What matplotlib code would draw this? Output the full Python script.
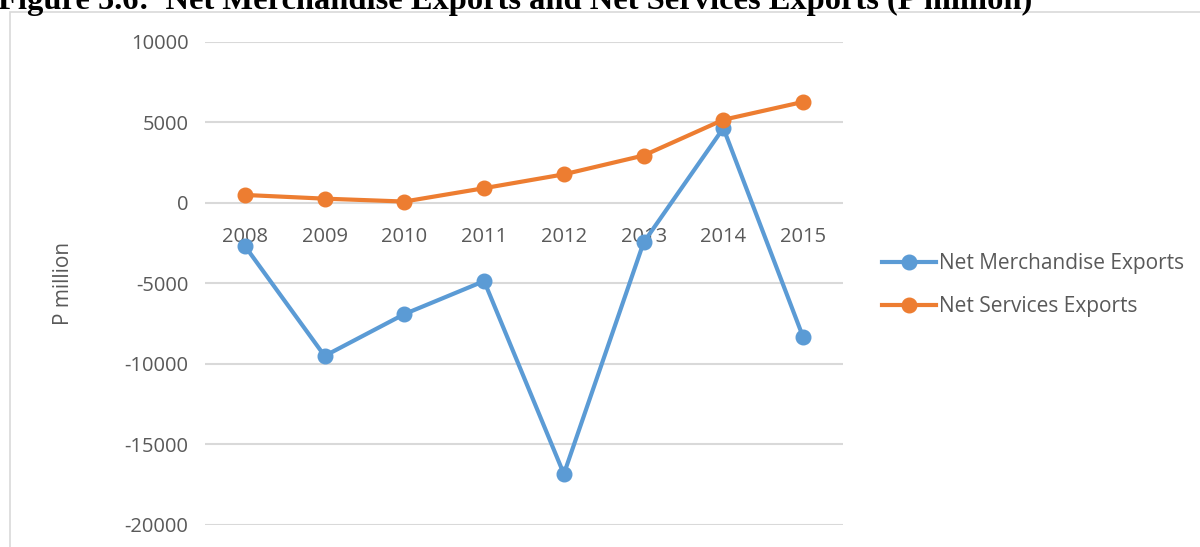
import matplotlib.pyplot as plt
from matplotlib.patches import Rectangle

plt.rcParams["axes.unicode_minus"] = False

years = ["2008", "2009", "2010", "2011", "2012", "2013", "2014", "2015"]
merchandise = [-2670, -9500, -6900, -4850, -16830, -2450, 4650, -8330]
services = [500, 270, 90, 920, 1780, 2950, 5170, 6280]

W, H = 1200, 547
fig = plt.figure(figsize=(W / 100, H / 100), dpi=100)

# light chart-area border like the excel frame
fig.patches.append(Rectangle((10 / W, -0.2), 1.2, 1.2 - 12 / H,
                             transform=fig.transFigure, fill=False,
                             edgecolor="#d9d9d9", linewidth=1.2))

fig.text(-0.002, 1 - 9 / H,
         "Figure 5.6:  Net Merchandise Exports and Net Services Exports (P million)",
         family="Liberation Serif", weight="bold", fontsize=23.4, va="baseline")

ax = fig.add_axes([205 / W, 1 - 525 / H, (843 - 205) / W, (525 - 42) / H])
x = range(len(years))
ax.plot(x, merchandise, color="#5b9bd5", lw=3, marker="o", ms=10.5,
        label="Net Merchandise Exports", zorder=3)
ax.plot(x, services, color="#ed7d31", lw=3, marker="o", ms=10.5,
        label="Net Services Exports", zorder=4)

ax.set_xlim(-0.5, len(years) - 0.5)
ax.set_ylim(-20000, 10000)
ax.set_yticks(range(-20000, 10001, 5000))
ax.set_xticks(list(x))
ax.set_xticklabels(years)
ax.grid(axis="y", color="#d9d9d9", lw=1.5)
ax.set_axisbelow(True)
for s in ["top", "right", "left"]:
    ax.spines[s].set_visible(False)
ax.spines["bottom"].set_position(("data", 0))
ax.spines["bottom"].set_color("none")
ax.tick_params(length=0, labelsize=14.5, labelcolor="#595959", colors="#595959")
ax.tick_params(axis="y", pad=12)
ax.tick_params(axis="x", pad=17)
for lab in ax.get_xticklabels() + ax.get_yticklabels():
    lab.set_family("Open Sans")
ax.set_ylabel("P million", fontsize=15, color="#595959", family="Open Sans", labelpad=36)

ax.legend(loc="center left", bbox_to_anchor=(1.061, 0.497), frameon=False,
          prop={"family": "Open Sans", "size": 15}, labelcolor="#595959",
          borderpad=0, borderaxespad=0,
          handlelength=2.6, handletextpad=0.15, labelspacing=1.05)

fig.savefig("out.png", dpi=100)
